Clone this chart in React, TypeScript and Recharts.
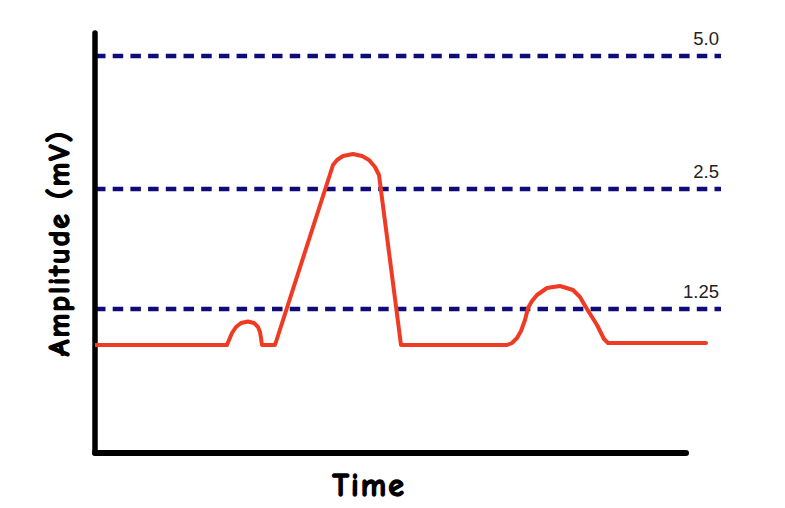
import { LineChart, Line, XAxis, YAxis, ReferenceLine } from 'recharts';

// Schematic ECG-like trace. Units are chart units (not mV): the reference
// levels are drawn where the picture puts them and carry their own labels.
const traceTime = [
  0, 13.2, 13.4, 13.7, 14.1, 14.6, 15.3, 15.9, 16.3, 16.5, 16.6, 16.7, 18.0,
  23.8, 24.2, 24.8, 25.8, 26.7, 27.4, 28.0, 28.4, 30.6,
  41.2, 41.7, 42.2, 42.6, 43.0, 43.3, 43.7, 44.2, 45.2, 46.5, 47.8, 48.5, 48.9,
  49.2, 50.2, 50.9, 51.3, 61.1,
];
const traceLevel = [
  10.8, 10.8, 11.3, 12.0, 12.6, 13.0, 13.15, 13.0, 12.6, 12.1, 11.5, 10.8, 10.8,
  28.8, 29.3, 29.7, 29.9, 29.7, 29.3, 28.6, 27.8, 10.8,
  10.8, 11.0, 11.5, 12.2, 13.3, 14.5, 15.2, 15.8, 16.5, 16.7, 16.3, 15.6, 14.9,
  14.4, 12.8, 11.4, 11.0, 11.0,
];
const levelPositions = [39.7, 26.4, 14.4];
const levelLabels = ['5.0', '2.5', '1.25'];
const timeAxisEnd = 59.1;
const levelAxisTop = 42;

const data = traceTime.map((t, i) => ({ t, v: traceLevel[i] }));

const HAND = '"Comic Sans MS", "Comic Neue", Lato, sans-serif';

function LevelLabel({ viewBox, text }: { viewBox?: any; text: string }) {
  if (!viewBox) return null;
  return (
    <text x={viewBox.x + viewBox.width - 2} y={viewBox.y - 11} textAnchor="end"
      fontFamily='"Liberation Sans", Arial, sans-serif' fontSize={18.5} fill="#222">
      {text}
    </text>
  );
}

const handText = {
  position: 'absolute' as const, whiteSpace: 'nowrap' as const, fontFamily: HAND, fontWeight: 700,
  color: '#000', WebkitTextStroke: '1.3px #000', letterSpacing: 2, lineHeight: 1,
};

export default function App() {
  return (
    <div style={{ position: 'relative', width: 777, height: 500 }}>
      <LineChart width={777} height={500} data={data} margin={{ top: 25, right: 64, bottom: 55, left: 87 }}>
        <XAxis type="number" dataKey="t" domain={[0, 62.6]} allowDataOverflow hide />
        <YAxis type="number" domain={[0, levelAxisTop]} allowDataOverflow hide />
        {levelPositions.map((y, i) => (
          <ReferenceLine key={y} y={y} stroke="#0f0c7a" strokeWidth={4.5} strokeDasharray="10.5 7.2"
            label={<LevelLabel text={levelLabels[i]} />} />
        ))}
        <ReferenceLine segment={[{ x: 0, y: 0 }, { x: 0, y: levelAxisTop }]} stroke="#000" strokeWidth={5.5}
          strokeLinecap="round" ifOverflow="visible" />
        <ReferenceLine segment={[{ x: 0, y: 0 }, { x: timeAxisEnd, y: 0 }]} stroke="#000" strokeWidth={6}
          strokeLinecap="round" ifOverflow="visible" />
        <Line type="linear" dataKey="v" stroke="#ef3b24" strokeWidth={4} dot={false} activeDot={false}
          strokeLinecap="round" strokeLinejoin="round" isAnimationActive={false} />
      </LineChart>
      <div style={{ ...handText, left: 52, top: 235, fontSize: 30, transform: 'translate(-50%, -50%) rotate(-90deg)' }}>
        Amplitude (mV)
      </div>
      <div style={{ ...handText, left: 361, top: 478, fontSize: 32, transform: 'translate(-50%, -50%)' }}>
        Time
      </div>
    </div>
  );
}
